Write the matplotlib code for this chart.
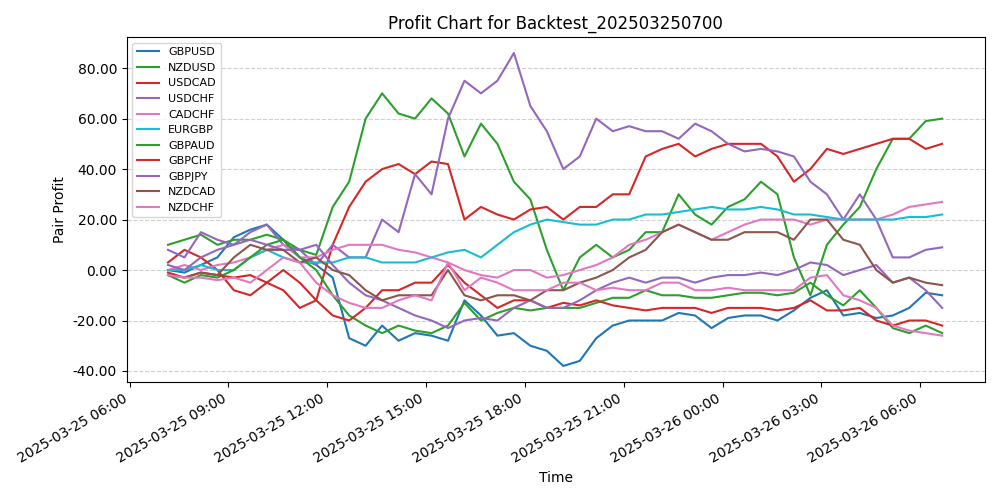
import matplotlib
matplotlib.use("Agg")
import matplotlib.pyplot as plt
import matplotlib.dates as mdates
from matplotlib.ticker import FormatStrFormatter
import pandas as pd

times = pd.date_range("2025-03-25 07:10", periods=48, freq="30min")

gbpusd = [0, -1, 2, 5, 13, 16, 18, 12, 5, 2, -3, -27, -30, -22, -28, -25, -26, -28, -12, -18, -26, -25, -30, -32,
          -38, -36, -27, -22, -20, -20, -20, -17, -18, -23, -19, -18, -18, -20, -16, -11, -8, -18, -17, -19, -18, -15, -9, -10]
nzdusd = [10, 12, 14, 10, 12, 12, 14, 12, 8, 6, 25, 35, 60, 70, 62, 60, 68, 62, 45, 58, 50, 35, 28, 8,
          -8, 5, 10, 5, 8, 15, 15, 30, 22, 18, 25, 28, 35, 30, 5, -10, 10, 18, 25, 40, 52, 52, 59, 60]
usdcad = [3, 8, 5, 0, -8, -10, -5, 0, -5, -12, 10, 25, 35, 40, 42, 38, 43, 42, 20, 25, 22, 20, 24, 25,
          20, 25, 25, 30, 30, 45, 48, 50, 45, 48, 50, 50, 50, 45, 35, 40, 48, 46, 48, 50, 52, 52, 48, 50]
usdchf = [8, 5, 15, 12, 10, 15, 18, 10, 8, 2, 10, 5, 5, 20, 15, 38, 30, 60, 75, 70, 75, 86, 65, 55,
          40, 45, 60, 55, 57, 55, 55, 52, 58, 55, 50, 47, 48, 47, 45, 35, 30, 20, 30, 20, 5, 5, 8, 9]
cadchf = [0, 2, 0, 2, 3, 5, 8, 10, 5, 5, 8, 10, 10, 10, 8, 7, 5, 3, 0, -2, -3, 0, 0, -3,
          -2, 0, 2, 5, 10, 12, 15, 18, 15, 12, 15, 18, 20, 20, 20, 18, 20, 20, 20, 20, 22, 25, 26, 27]
eurgbp = [0, 0, 2, 0, 0, 5, 8, 5, 3, 3, 3, 5, 5, 3, 3, 3, 5, 7, 8, 5, 10, 15, 18, 20,
          19, 18, 18, 20, 20, 22, 22, 23, 24, 25, 24, 24, 25, 24, 22, 22, 21, 20, 20, 20, 20, 21, 21, 22]
gbpaud = [-2, -5, -2, -3, 0, 5, 10, 12, 5, 0, -10, -18, -22, -25, -22, -24, -25, -22, -13, -20, -17, -15, -16, -15,
          -15, -15, -13, -11, -11, -8, -10, -10, -11, -11, -10, -9, -9, -10, -9, -5, -10, -14, -8, -15, -23, -25, -22, -25]
gbpchf = [-1, -3, -1, -2, -3, -2, -5, -8, -15, -12, -18, -20, -15, -8, -8, -5, -5, 2, -5, -10, -15, -12, -12, -15,
          -13, -14, -12, -14, -15, -16, -15, -15, -15, -17, -15, -15, -15, -16, -15, -12, -16, -16, -15, -20, -22, -20, -20, -22]
gbpjpy = [2, 0, 5, 8, 10, 12, 10, 8, 8, 10, 2, -5, -10, -12, -15, -18, -20, -23, -20, -19, -20, -15, -12, -15,
          -15, -12, -8, -5, -3, -5, -3, -3, -5, -3, -2, -2, -1, -2, 0, 3, 2, -2, 0, 2, -5, -3, -8, -15]
nzdcad = [-2, -3, -1, -2, 5, 10, 8, 8, 3, 5, 0, -2, -8, -12, -10, -10, -10, 0, -10, -12, -10, -10, -12, -8,
          -8, -5, -3, 0, 5, 8, 15, 18, 15, 12, 12, 15, 15, 15, 12, 20, 20, 12, 10, 0, -5, -3, -5, -6]
nzdchf = [-2, -3, -3, -4, -3, -5, 0, 5, 3, -5, -10, -13, -15, -15, -12, -10, -12, 3, -8, -3, -5, -8, -8, -8,
          -5, -5, -8, -7, -8, -8, -5, -5, -8, -8, -7, -8, -8, -8, -8, -3, -2, -10, -12, -15, -22, -24, -25, -26]

series = [
    ("GBPUSD", gbpusd, "#1f77b4"),
    ("NZDUSD", nzdusd, "#2ca02c"),
    ("USDCAD", usdcad, "#d62728"),
    ("USDCHF", usdchf, "#9467bd"),
    ("CADCHF", cadchf, "#e377c2"),
    ("EURGBP", eurgbp, "#17becf"),
    ("GBPAUD", gbpaud, "#2ca02c"),
    ("GBPCHF", gbpchf, "#d62728"),
    ("GBPJPY", gbpjpy, "#9467bd"),
    ("NZDCAD", nzdcad, "#8c564b"),
    ("NZDCHF", nzdchf, "#e377c2"),
]

fig, ax = plt.subplots(figsize=(10, 5), dpi=100)
for name, vals, col in series:
    ax.plot(times, vals, label=name, color=col, linewidth=1.5)

ax.set_title("Profit Chart for Backtest_202503250700")
ax.set_xlabel("Time")
ax.set_ylabel("Pair Profit")
ax.set_xlim(pd.Timestamp("2025-03-25 05:55"), pd.Timestamp("2025-03-26 07:58"))
ax.yaxis.set_major_formatter(FormatStrFormatter("%.2f"))
ax.xaxis.set_major_locator(mdates.HourLocator(byhour=range(0, 24, 3)))
ax.xaxis.set_major_formatter(mdates.DateFormatter("%Y-%m-%d %H:%M"))
ax.grid(axis="y", linestyle="--", alpha=0.6)
ax.legend(loc="upper left", fontsize=8)
fig.autofmt_xdate()
plt.tight_layout()
plt.savefig("out.png")
